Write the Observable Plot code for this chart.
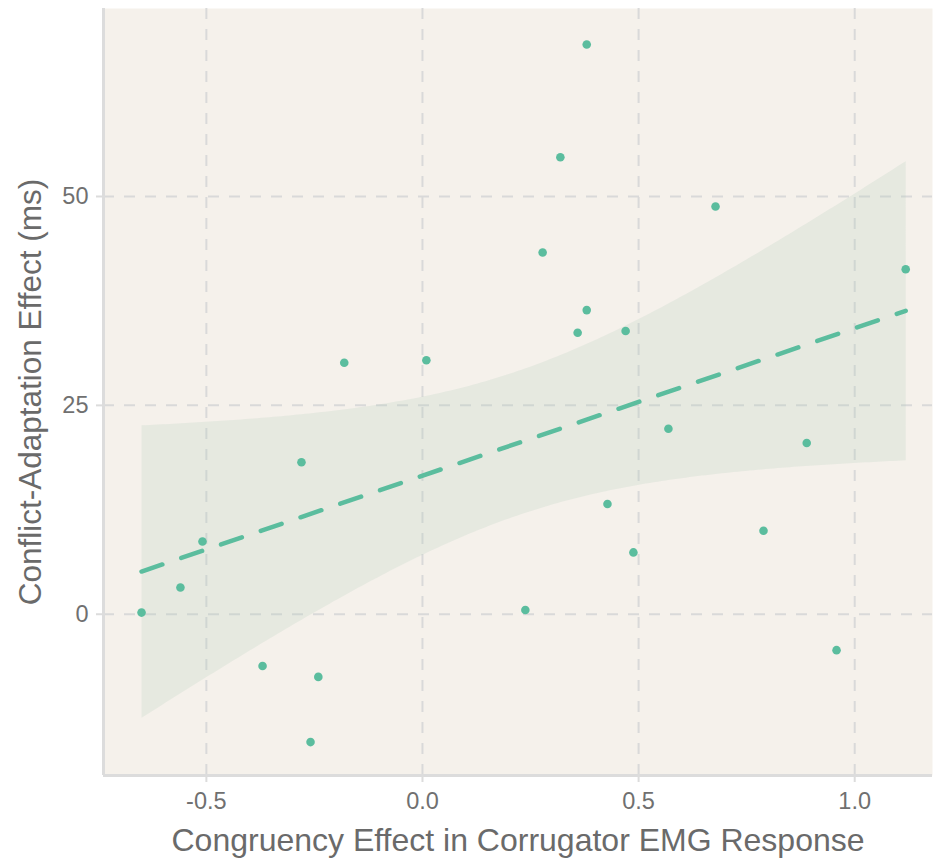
<!DOCTYPE html>
<html>
<head>
<meta charset="utf-8">
<script src="https://cdn.jsdelivr.net/npm/d3@7"></script>
<script src="https://cdn.jsdelivr.net/npm/@observablehq/plot@0.6"></script>
<style>
  html, body { margin: 0; padding: 0; background: #ffffff; }
  #chart { width: 933px; height: 863px; }
</style>
</head>
<body>
<div id="chart"></div>
<script>
// Congruency effect in corrugator EMG response (x) vs conflict-adaptation effect in ms (y)
const emgEffect = [-0.650, -0.560, -0.509, -0.370, -0.241, -0.259, -0.280, -0.181, 0.009, 0.238, 0.278, 0.319, 0.380, 0.380, 0.359, 0.470, 0.428, 0.488, 0.569, 0.678, 0.789, 0.889, 0.958, 1.118];
const adaptEffect = [0.2, 3.2, 8.7, -6.2, -7.5, -15.3, 18.2, 30.1, 30.4, 0.5, 43.3, 54.7, 68.2, 36.4, 33.7, 33.9, 13.2, 7.4, 22.2, 48.8, 10.0, 20.5, -4.3, 41.3];
const xTicks = [-0.5, 0.0, 0.5, 1.0];
const yTicks = [0, 25, 50];
const xDomain = [-0.738, 1.180];
const yDomain = [-19.3, 72.5];
const xTitle = "Congruency Effect in Corrugator EMG Response";
const yTitle = "Conflict-Adaptation Effect (ms)";

const data = emgEffect.map((x, i) => ({x, y: adaptEffect[i]}));

const green = "#5bbd9e";
const gridColor = "#d9d9d9";
const textColor = "#707070";
const fmtX = d => d3.format(".1f")(d).replace("\u2212", "-");

const chart = Plot.plot({
  width: 933,
  height: 863,
  marginLeft: 103,
  marginRight: 1,
  marginTop: 8,
  marginBottom: 88,
  style: {fontFamily: "'Liberation Sans', Arial, sans-serif", background: "#ffffff", overflow: "visible"},
  x: {domain: xDomain, ticks: xTicks, tickFormat: fmtX},
  y: {domain: yDomain, ticks: yTicks},
  marks: [
    Plot.frame({fill: "#f5f1eb", stroke: null}),
    Plot.ruleX(xTicks, {stroke: gridColor, strokeWidth: 2, strokeDasharray: "11,10"}),
    Plot.ruleY(yTicks, {stroke: gridColor, strokeWidth: 2, strokeDasharray: "11,10"}),
    Plot.linearRegressionY(data, {
      x: "x", y: "y", ci: 0.95,
      stroke: green, strokeWidth: 4.5, strokeDasharray: "22,20",
      fill: "#b3cdbb", fillOpacity: 0.22
    }),
    Plot.dot(data, {x: "x", y: "y", r: 4.3, fill: green, stroke: null}),
    Plot.ruleX([xDomain[0]], {stroke: "#dcdcdc", strokeWidth: 3}),
    Plot.ruleY([yDomain[0]], {stroke: "#dcdcdc", strokeWidth: 3}),
    Plot.axisX({ticks: xTicks, tickFormat: fmtX, tickSize: 7, tickPadding: 10, stroke: "#dcdcdc", strokeWidth: 2, fill: textColor, fontSize: 23.5, label: null}),
    Plot.axisY({ticks: yTicks, tickSize: 7, tickPadding: 8, stroke: "#dcdcdc", strokeWidth: 2, fill: textColor, fontSize: 23.5, label: null}),
    Plot.text([xTitle], {frameAnchor: "bottom", dy: 75, text: d => d, fontSize: 32, fill: "#6a6a6a", textAnchor: "middle"}),
    Plot.text([yTitle], {frameAnchor: "left", dx: -73, rotate: -90, text: d => d, fontSize: 31.5, fill: "#6a6a6a", textAnchor: "middle"})
  ]
});
document.getElementById("chart").appendChild(chart);
</script>
</body>
</html>
